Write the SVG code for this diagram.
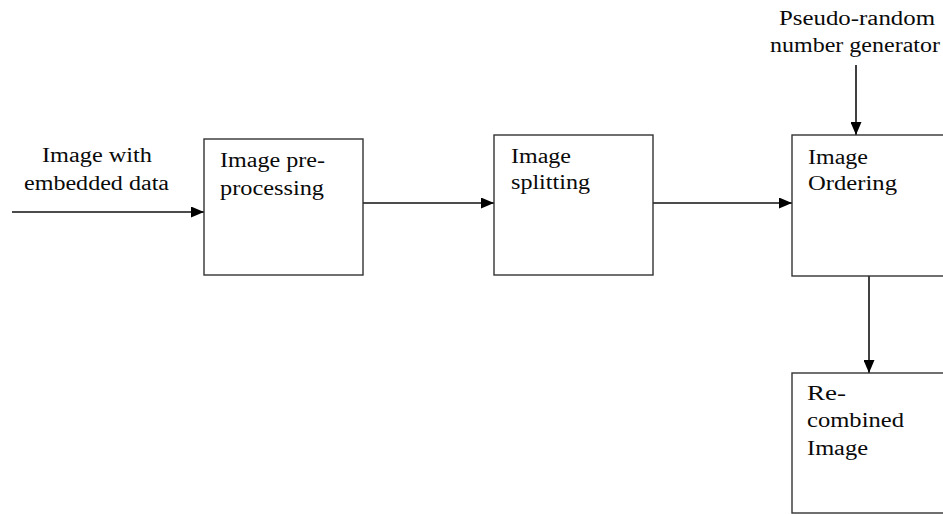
<svg xmlns="http://www.w3.org/2000/svg" width="943" height="514" viewBox="0 0 943 514">
  <style>
    .box { fill: #ffffff; stroke: #333333; stroke-width: 1.4; }
    .wire { fill: none; stroke: #111111; stroke-width: 1.6; marker-end: url(#arrow); }
    text { font-family: "Liberation Serif", "Times New Roman", serif; font-size: 20px; fill: #0a0a0a; }
  </style>
  <defs>
    <marker id="arrow" markerUnits="userSpaceOnUse" markerWidth="13" markerHeight="11" refX="13" refY="5.5" orient="auto">
      <path d="M0,0 L13,5.5 L0,11 Z" fill="#000000"/>
    </marker>
  </defs>
  <rect width="943" height="514" fill="#ffffff"/>

  <!-- connectors -->
  <g id="connectors">
    <line class="wire" x1="12" y1="212" x2="204" y2="212"/>
    <line class="wire" x1="363" y1="203" x2="494" y2="203"/>
    <line class="wire" x1="653" y1="203" x2="792" y2="203"/>
    <line class="wire" x1="856" y1="65" x2="856" y2="135"/>
    <line class="wire" x1="869" y1="276" x2="869" y2="373"/>
  </g>

  <!-- input label -->
  <g id="input-label">
    <text x="42" y="162" textLength="110" lengthAdjust="spacingAndGlyphs">Image with</text>
    <text x="24" y="190" textLength="145" lengthAdjust="spacingAndGlyphs">embedded data</text>
  </g>

  <!-- random source label -->
  <g id="prng-label">
    <text x="779" y="25" textLength="156" lengthAdjust="spacingAndGlyphs">Pseudo-random</text>
    <text x="770" y="52" textLength="170" lengthAdjust="spacingAndGlyphs">number generator</text>
  </g>

  <g id="preprocessing">
    <rect class="box" x="204" y="139" width="159" height="136"/>
    <text x="220" y="167" textLength="105" lengthAdjust="spacingAndGlyphs">Image pre-</text>
    <text x="220" y="195" textLength="104" lengthAdjust="spacingAndGlyphs">processing</text>
  </g>

  <g id="splitting">
    <rect class="box" x="494" y="135" width="159" height="140"/>
    <text x="511" y="163" textLength="60" lengthAdjust="spacingAndGlyphs">Image</text>
    <text x="511" y="189" textLength="79" lengthAdjust="spacingAndGlyphs">splitting</text>
  </g>

  <g id="ordering">
    <rect class="box" x="792" y="135" width="170" height="141"/>
    <text x="808" y="164" textLength="60" lengthAdjust="spacingAndGlyphs">Image</text>
    <text x="808" y="190" textLength="89" lengthAdjust="spacingAndGlyphs">Ordering</text>
  </g>

  <g id="recombined">
    <rect class="box" x="792" y="373" width="170" height="140"/>
    <text x="807" y="400" textLength="39" lengthAdjust="spacingAndGlyphs">Re-</text>
    <text x="807" y="427" textLength="97" lengthAdjust="spacingAndGlyphs">combined</text>
    <text x="807" y="455" textLength="61" lengthAdjust="spacingAndGlyphs">Image</text>
  </g>
</svg>
